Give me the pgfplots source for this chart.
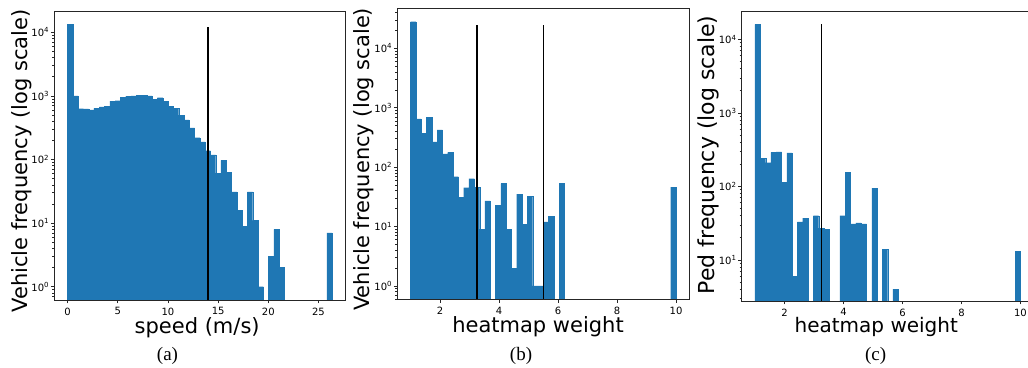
\documentclass[border=0pt]{standalone}
\usepackage{pgfplots}
\pgfplotsset{compat=1.18}
\usepackage{fontspec}
\setmainfont{DejaVu Sans}
\newfontfamily\capfont{Liberation Serif}
\definecolor{c0}{RGB}{31,119,180}
\pgfplotsset{
  every axis/.append style={
    scale only axis, axis on top,
    tick align=outside, tick pos=left,
    major tick length=3.5bp, minor tick length=2bp,
    every tick/.style={black!85, line width=0.6bp},
    axis line style={black!85, line width=0.9bp},
    tick label style={font=\fontsize{10bp}{12bp}\selectfont},
    yticklabel style={inner sep=1.5bp},
    xticklabel style={inner sep=1bp, yshift=-3bp},
    xticklabel={\pgfmathprintnumber[assume math mode=true]{\tick}},
    yticklabel={\pgfmathtruncatemacro\myexp{round(\tick/ln(10))}10\textsuperscript{\myexp}},
    label style={font=\fontsize{21bp}{25bp}\selectfont},
    ylabel style={anchor=center},
    xlabel style={anchor=base, inner sep=0pt},
  },
}
\begin{document}
\begin{tikzpicture}
\useasboundingbox (0,0) rectangle (1028bp,368bp);
% ---------------- (a)
\begin{axis}[ymode=log, log origin=infty, at={(54.3bp,68bp)}, anchor=south west,
  width=291bp, height=289bp,
  xmin=-1.32, xmax=27.67, ymin=0.618, ymax=21630,
  xtick={0,5,10,15,20,25},
  xlabel={speed (m/s)}, ylabel={Vehicle frequency (log scale)},
  xlabel style={at={(axis description cs:0.491,-0.116)}},
  ylabel style={at={(axis description cs:-0.111,0.481)}}]
\addplot[ybar, bar shift=0pt, bar width=0.53, fill=c0, draw=c0, line width=0.2bp, mark=none] coordinates {
(0.264,13500) (0.791,1000) (1.318,630) (1.845,625) (2.372,605) (2.899,640)
(3.426,670) (3.953,680) (4.480,830) (5.007,840) (5.534,960) (6.061,980)
(6.588,1000) (7.115,1030) (7.642,1020) (8.169,1000) (8.696,890) (9.223,940)
(9.750,830) (10.277,680) (10.804,645) (11.331,500) (11.858,420) (12.385,315)
(12.912,220) (13.439,190) (13.966,138) (14.493,118) (15.020,61) (15.547,97)
(16.074,63) (16.601,31) (17.128,16) (17.655,9) (18.182,31) (18.709,11)
(19.236,1) (20.290,3) (20.817,8) (21.344,2) (26.087,7)};
\addplot[black, line width=1.5bp, mark=none] coordinates {(14,0.618) (14,12000)};
\end{axis}
% ---------------- (b)
\begin{axis}[ymode=log, log origin=infty, at={(397.3bp,68.7bp)}, anchor=south west,
  width=292bp, height=291bp,
  xmin=0.55, xmax=10.45, ymin=0.597, ymax=47100,
  xtick={2,4,6,8,10},
  xlabel={heatmap weight}, ylabel={Vehicle frequency (log scale)},
  xlabel style={at={(axis description cs:0.482,-0.115)}},
  ylabel style={at={(axis description cs:-0.114,0.481)}}]
\addplot[ybar, bar shift=0pt, bar width=0.182, fill=c0, draw=c0, line width=0.2bp, mark=none] coordinates {
(1.09,28000) (1.27,646) (1.45,372) (1.63,690) (1.81,266) (1.99,424)
(2.17,167) (2.35,178) (2.53,69) (2.71,31) (2.89,45) (3.07,64) (3.25,46)
(3.43,9) (3.61,27) (3.97,23) (4.15,53) (4.33,9) (4.51,2) (4.69,35)
(4.87,11) (5.05,32) (5.23,1) (5.41,1) (5.59,12) (5.77,15) (6.13,54) (9.91,46)};
\addplot[black, line width=1.5bp, mark=none] coordinates {(3.25,0.597) (3.25,24600)};
\addplot[black, line width=1.5bp, mark=none] coordinates {(5.5,0.597) (5.5,24600)};
\end{axis}
% ---------------- (c)
\begin{axis}[ymode=log, log origin=infty, at={(741.7bp,67bp)}, anchor=south west,
  width=292bp, height=289.3bp,
  xmin=0.55, xmax=10.45, ymin=2.76, ymax=23800,
  xtick={2,4,6,8,10},
  xlabel={heatmap weight}, ylabel={Ped frequency (log scale)},
  xlabel style={at={(axis description cs:0.461,-0.109)}, font=\fontsize{20bp}{24bp}\selectfont},
  ylabel style={at={(axis description cs:-0.115,0.505)}, font=\fontsize{22bp}{26bp}\selectfont}]
\addplot[ybar, bar shift=0pt, bar width=0.182, fill=c0, draw=c0, line width=0.2bp, mark=none] coordinates {
(1.09,16000) (1.27,240) (1.45,210) (1.63,290) (1.81,295) (1.99,113)
(2.17,285) (2.35,6) (2.53,33) (2.71,37) (3.07,40) (3.25,27) (3.43,26)
(3.97,40) (4.15,155) (4.33,31) (4.51,32) (4.69,31) (5.05,95) (5.41,14)
(5.77,4) (9.91,13)};
\addplot[black, line width=1.5bp, mark=none] coordinates {(3.25,2.76) (3.25,16000)};
\end{axis}
\node[font=\capfont\fontsize{19bp}{22bp}\selectfont] at (167.5bp,12bp) {(a)};
\node[font=\capfont\fontsize{19bp}{22bp}\selectfont] at (521bp,12bp) {(b)};
\node[font=\capfont\fontsize{19bp}{22bp}\selectfont] at (875.7bp,12bp) {(c)};
\end{tikzpicture}
\end{document}
